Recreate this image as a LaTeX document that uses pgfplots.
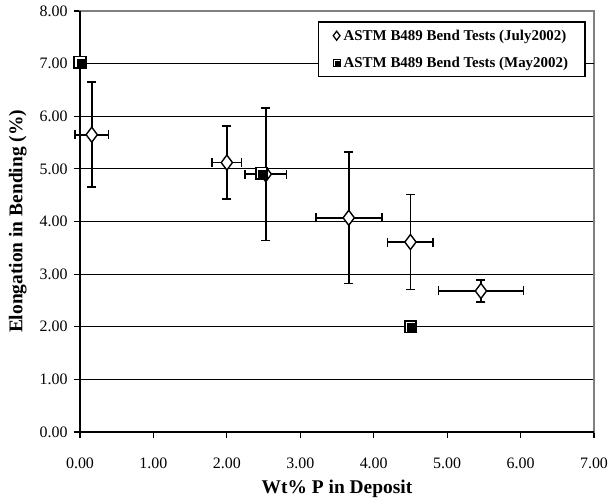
\documentclass[border=0pt]{standalone}
\usepackage{fontspec}
\setmainfont{Liberation Serif}
\usepackage{pgfplots}
\pgfplotsset{compat=1.18}

% filled square with a white bevel along its top and left edges
\pgfdeclareplotmark{bevelsquare}{%
  \pgfpathrectangle{\pgfpoint{-\pgfplotmarksize}{-\pgfplotmarksize}}%
                   {\pgfpoint{2\pgfplotmarksize}{2\pgfplotmarksize}}%
  \pgfsetfillcolor{black}\pgfusepath{fill}%
  \pgfsetstrokecolor{white}%
  \pgfsetlinewidth{0.2\pgfplotmarksize}%
  \pgfpathmoveto{\pgfpoint{-0.62\pgfplotmarksize}{-0.75\pgfplotmarksize}}%
  \pgfpathlineto{\pgfpoint{-0.62\pgfplotmarksize}{0.62\pgfplotmarksize}}%
  \pgfpathlineto{\pgfpoint{0.75\pgfplotmarksize}{0.62\pgfplotmarksize}}%
  \pgfusepath{stroke}%
}

\begin{document}
\begin{tikzpicture}
\path[use as bounding box] (0bp,0bp) rectangle (613bp,501bp);
\begin{axis}[
  at={(80bp,69bp)}, anchor=south west,
  scale only axis, width=514bp, height=421bp,
  xmin=0, xmax=7, ymin=0, ymax=8,
  xtick={0,1,...,7}, ytick={0,1,...,8},
  /pgf/number format/assume math mode=true,
  /pgf/number format/.cd, fixed, fixed zerofill, precision=2, /pgfplots/.cd,
  tick label style={font=\fontsize{16}{19}\selectfont},
  xticklabel style={yshift=-16bp},
  yticklabel style={xshift=-3bp},
  tick align=outside, xtick pos=bottom, ytick pos=left,
  major tick length=6bp,
  tick style={black, line width=1.2bp},
  axis line style={gray, line width=1.2bp},
  ymajorgrids, grid style={black, line width=0.8bp},
  extra y ticks={7}, extra y tick labels={},
  extra y tick style={grid style={black, line width=1.6bp}, major tick length=0pt},
  xlabel={\bfseries Wt\% P in Deposit},
  ylabel={\bfseries Elongation in Bending (\%)},
  label style={font=\fontsize{19.5}{22}\selectfont},
  xlabel style={yshift=-5bp},
  ylabel style={yshift=0bp},
  clip=false,
  legend style={at={(0.984,0.976)}, anchor=north east,
    draw=black, line width=1.4bp, fill=white,
    font=\fontsize{15}{17}\selectfont\bfseries,
    row sep=11bp, inner xsep=14bp, inner ysep=6bp,
    nodes={inner xsep=3bp}},
  legend cell align=left,
]
\addlegendimage{only marks, mark=diamond*, mark size=4.5bp,
  mark options={fill=white, draw=black, line width=1.3bp}}
\addlegendentry{ASTM B489 Bend Tests (July2002)}
\addlegendimage{only marks, mark=bevelsquare, mark size=4bp}
\addlegendentry{ASTM B489 Bend Tests (May2002)}

% July 2002 series with scatter in both directions
\addplot+[forget plot, only marks, black, mark=diamond*, mark size=7.5bp,
  mark options={fill=white, draw=black, line width=1.4bp},
  error bars/.cd, x dir=both, x explicit, y dir=both, y explicit,
  error bar style={black, line width=1.8bp},
  error mark options={black, line width=1.6bp, mark size=4.5bp, rotate=90}]
  table[x=x, y=y, x error=ex, y error=ey] {
  x     y     ex    ey
  0.16  5.65  0.23  1.00
  2.00  5.12  0.20  0.69
  2.53  4.90  0.28  1.26
  3.66  4.07  0.45  1.25
  4.50  3.61  0.31  0.90
  5.46  2.68  0.58  0.21
};

% May 2002 series
\addplot+[forget plot, only marks, mark=bevelsquare, mark size=6.5bp]
  table {
  x     y
  0.00  7.03
  2.47  4.92
  4.50  2.00
};

\draw[black, line width=1.8bp] (rel axis cs:0,1) -- (rel axis cs:0,0) -- (rel axis cs:1,0);
\end{axis}
\end{tikzpicture}
\end{document}
